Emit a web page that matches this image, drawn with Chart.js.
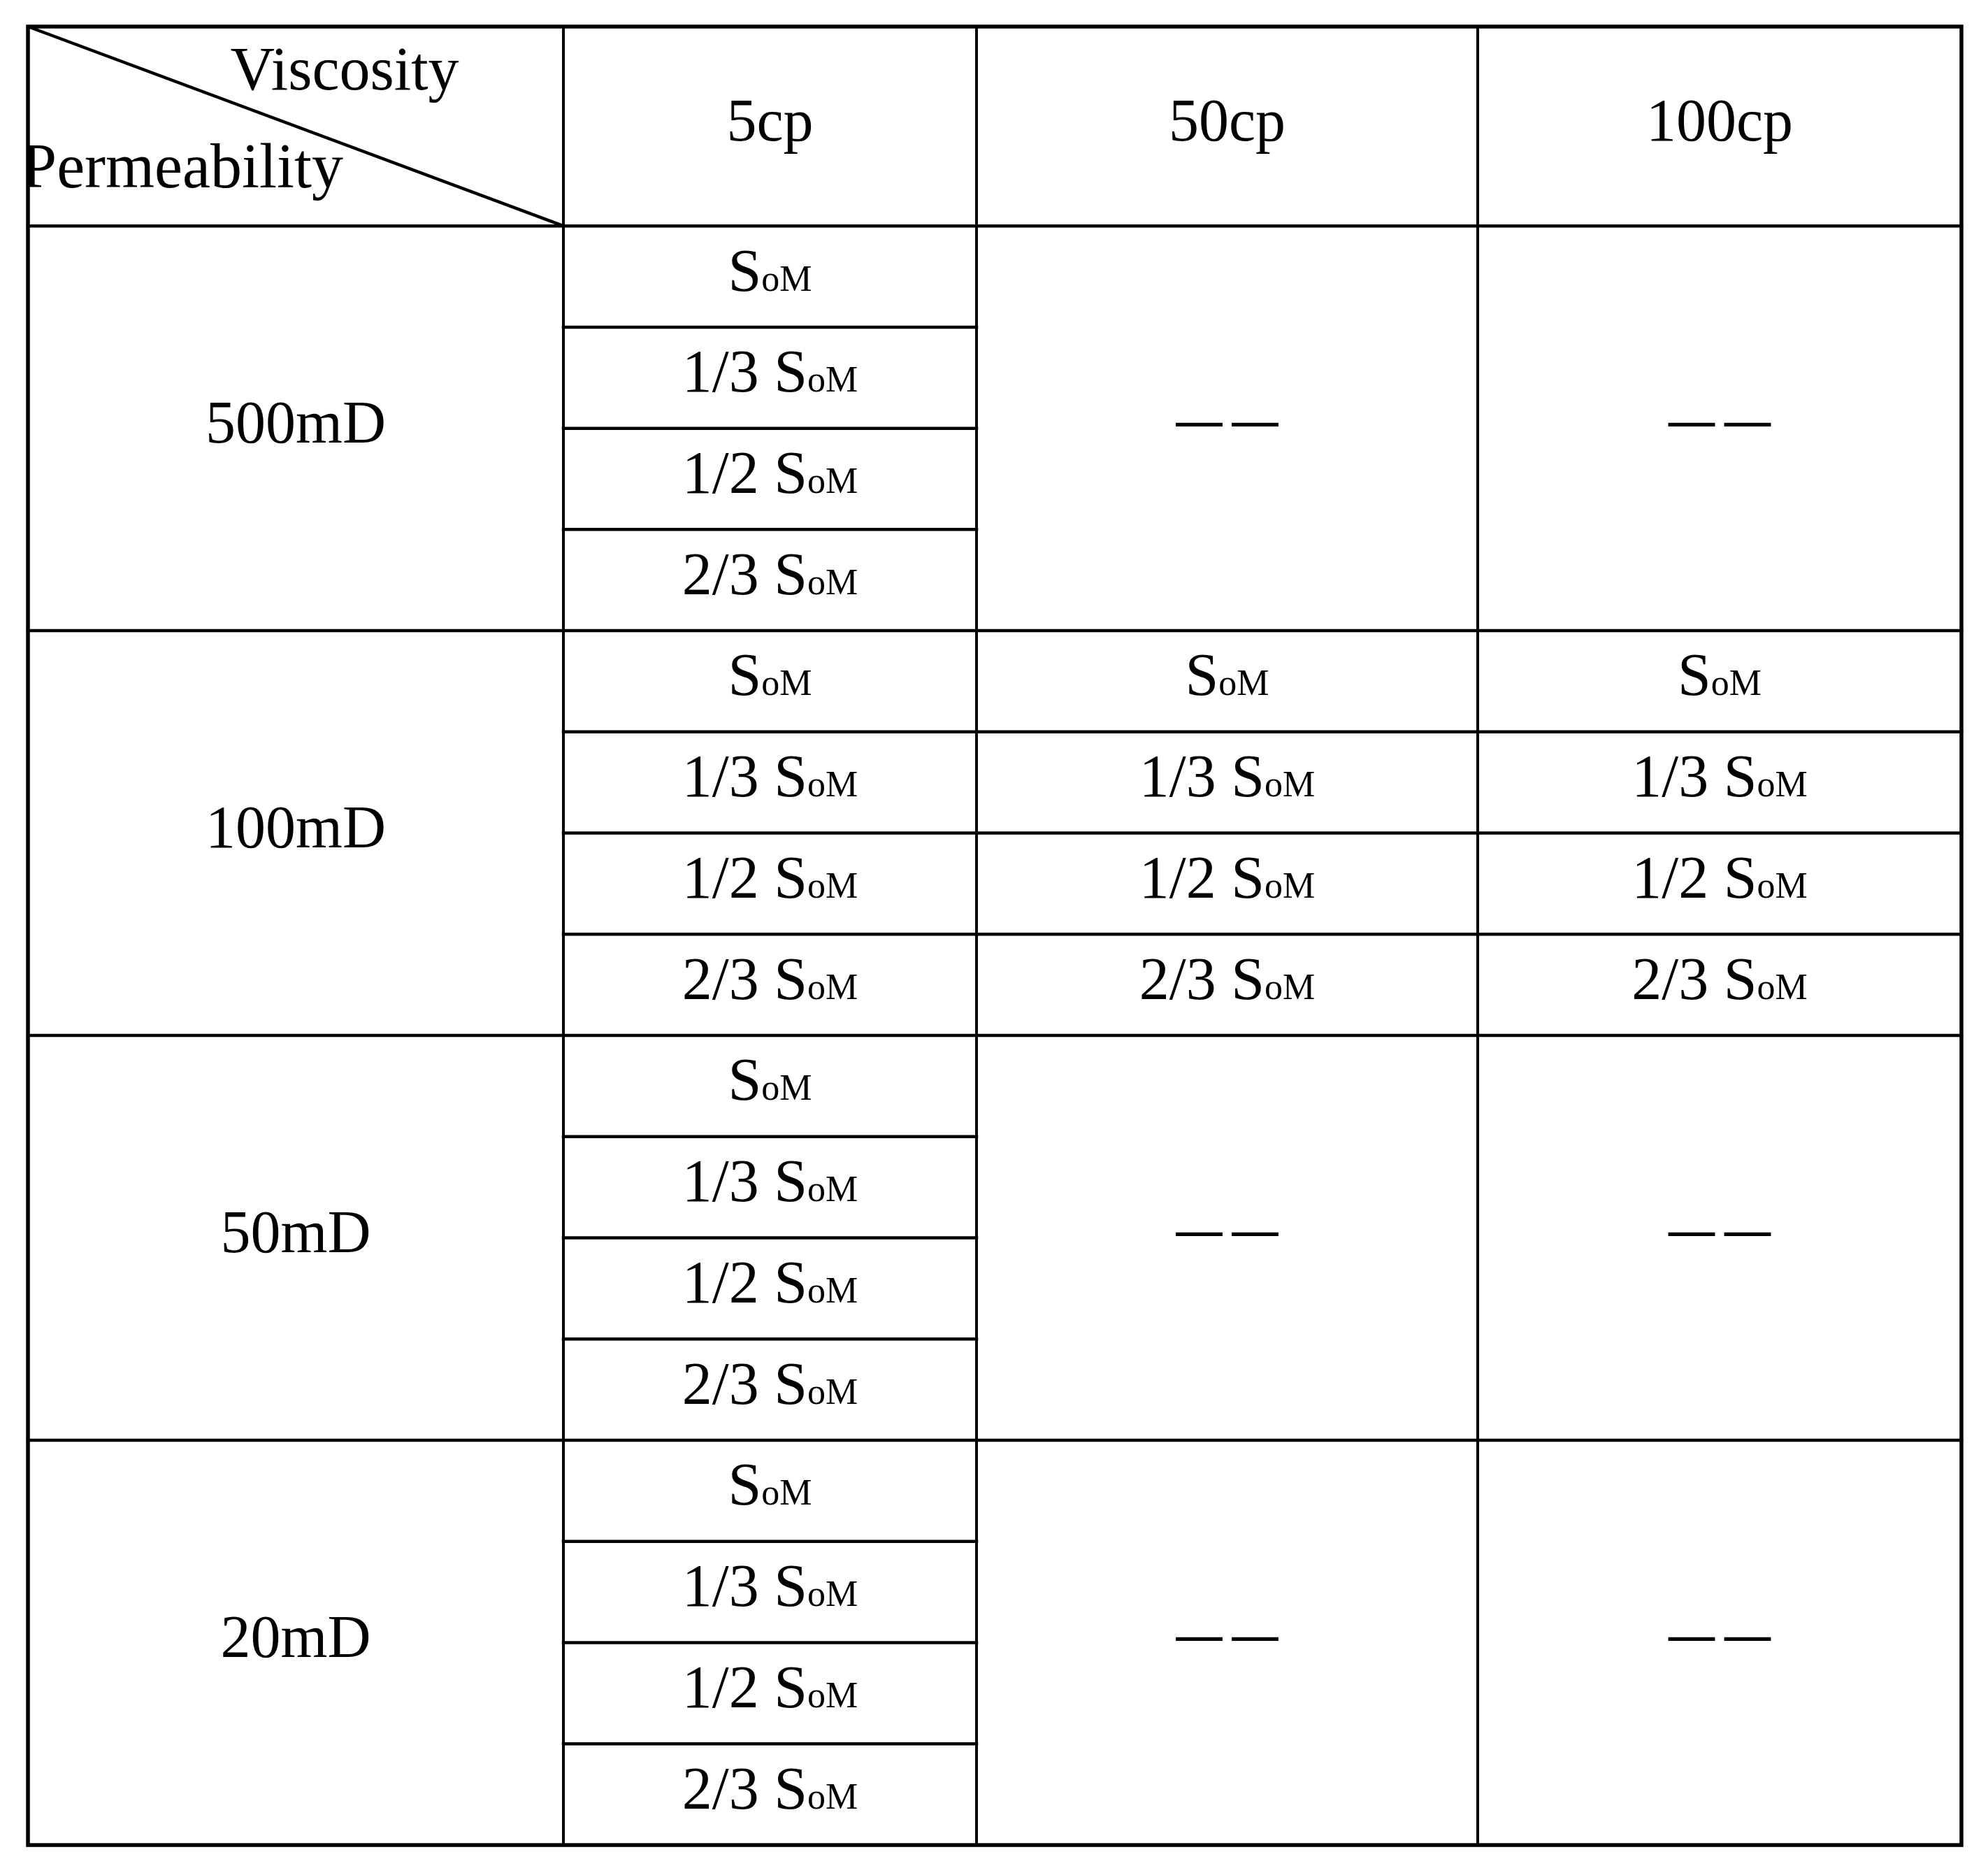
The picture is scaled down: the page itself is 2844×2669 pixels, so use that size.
<!DOCTYPE html>
<html>
<head>
<meta charset="utf-8">
<script src="https://cdn.jsdelivr.net/npm/chart.js@4.4.1/dist/chart.umd.min.js"></script>
<style>
  html, body { margin: 0; padding: 0; background: #fff; }
  #wrap { width: 2844px; height: 2669px; }
</style>
</head>
<body>
<div id="wrap"><canvas id="table"></canvas></div>
<script>
// ── Table content ────────────────────────────────────────────────
const viscosities    = ['5cp', '50cp', '100cp'];
const permeabilities = ['500mD', '100mD', '50mD', '20mD'];
const fractions      = ['', '1/3', '1/2', '2/3'];     // fraction of SoM
// 1 = run at this viscosity, 0 = not run ("——")
const runMatrix = [
  [1, 0, 0],
  [1, 1, 1],
  [1, 0, 0],
  [1, 0, 0]
];
const cornerTop    = 'Viscosity';
const cornerBottom = 'Permeability';

// ── Layout ───────────────────────────────────────────────────────
const COL_W   = [766, 591, 717, 692];   // corner column + viscosity columns
const HEAD_H  = 1.97;                    // header height, in sub-rows
const N_SUB   = permeabilities.length * fractions.length;
const FONT    = '"Liberation Serif", "Times New Roman", serif';
const INK     = '#000';

const colEdges = COL_W.reduce((a, w) => a.concat(a[a.length - 1] + w), [0]);
const colMid   = j => (colEdges[j] + colEdges[j + 1]) / 2;

// one invisible point per text cell, positioned in scale units
const cells = [];
viscosities.forEach((v, j) => cells.push({ x: colMid(j + 1), y: -HEAD_H / 2, kind: 'plain', text: v }));
permeabilities.forEach((p, i) => {
  const base = i * fractions.length;
  cells.push({ x: colMid(0), y: base + fractions.length / 2, kind: 'plain', text: p });
  runMatrix[i].forEach((run, j) => {
    if (run) {
      fractions.forEach((f, k) => cells.push({ x: colMid(j + 1), y: base + k + 0.5, kind: 'som', text: f }));
    } else {
      cells.push({ x: colMid(j + 1), y: base + fractions.length / 2, kind: 'dash', text: '— —' });
    }
  });
});
cells.push({ x: 453, y: -1.347, kind: 'cornerTop',    text: cornerTop });
cells.push({ x: 451, y: -0.38,  kind: 'cornerBottom', text: cornerBottom });

// ── Grid lines of the table ──────────────────────────────────────
const gridPlugin = {
  id: 'tableGrid',
  beforeDatasetsDraw(chart) {
    const { ctx, scales: { x, y } } = chart;
    const px = v => x.getPixelForValue(v);
    const py = v => y.getPixelForValue(v);
    const line = (x1, y1, x2, y2, w) => {
      ctx.beginPath();
      ctx.lineWidth = w;
      ctx.moveTo(px(x1), py(y1));
      ctx.lineTo(px(x2), py(y2));
      ctx.stroke();
    };
    const right = colEdges[colEdges.length - 1];
    ctx.save();
    ctx.strokeStyle = INK;
    ctx.lineCap = 'square';
    // header bottom + block separators
    line(0, 0, right, 0, 4.5);
    permeabilities.forEach((p, i) => { if (i > 0) line(0, i * fractions.length, right, i * fractions.length, 4.5); });
    // sub-row lines inside run columns
    permeabilities.forEach((p, i) => {
      runMatrix[i].forEach((run, j) => {
        if (!run) return;
        for (let k = 1; k < fractions.length; k++) {
          const yy = i * fractions.length + k;
          line(colEdges[j + 1], yy, colEdges[j + 2], yy, 4.5);
        }
      });
    });
    // column separators
    for (let j = 1; j < colEdges.length - 1; j++) line(colEdges[j], -HEAD_H, colEdges[j], N_SUB, 4);
    // corner diagonal
    ctx.lineCap = 'butt';
    line(0, -HEAD_H, colEdges[1], 0, 4.5);
    // outer border
    ctx.lineWidth = 5.5;
    ctx.lineJoin = 'miter';
    ctx.strokeRect(px(0), py(-HEAD_H), px(right) - px(0), py(N_SUB) - py(-HEAD_H));
    ctx.restore();
  },
  afterDatasetsDraw(chart) {
    const { ctx, scales: { x, y } } = chart;
    const meta = chart.getDatasetMeta(0);
    const data = chart.data.datasets[0].data;
    ctx.save();
    ctx.fillStyle = INK;
    ctx.strokeStyle = INK;
    ctx.textBaseline = 'alphabetic';
    meta.data.forEach((el, i) => {
      const d = data[i];
      const cx = el.x, cy = el.y;
      if (d.kind === 'plain') {
        ctx.font = '86px ' + FONT;
        ctx.textAlign = 'center';
        ctx.fillText(d.text, cx, cy + 20);
      } else if (d.kind === 'som') {
        const pre = d.text ? d.text + ' ' : '';
        ctx.textAlign = 'left';
        ctx.font = '86px ' + FONT;
        const wPre = ctx.measureText(pre).width;
        const wS = ctx.measureText('S').width;
        ctx.font = '52px ' + FONT;
        const wSub = ctx.measureText('oM').width;
        let sx = cx - (wPre + wS + wSub) / 2;
        ctx.font = '86px ' + FONT;
        ctx.fillText(pre + 'S', sx, cy + 20);
        ctx.font = '52px ' + FONT;
        ctx.fillText('oM', sx + wPre + wS, cy + 20);
      } else if (d.kind === 'dash') {
        ctx.font = '64px ' + FONT;
        ctx.textAlign = 'center';
        ctx.lineWidth = 2;
        ctx.fillText(d.text, cx, cy + 9);
        ctx.strokeText(d.text, cx, cy + 9);
      } else if (d.kind === 'cornerTop') {
        ctx.font = '88px ' + FONT;
        ctx.textAlign = 'center';
        ctx.fillText(d.text, cx, cy);
      } else if (d.kind === 'cornerBottom') {
        ctx.save();
        ctx.beginPath();
        ctx.rect(x.getPixelForValue(0), y.getPixelForValue(-HEAD_H), x.getPixelForValue(colEdges[1]) - x.getPixelForValue(0), y.getPixelForValue(0) - y.getPixelForValue(-HEAD_H));
        ctx.clip();
        ctx.font = '90px ' + FONT;
        ctx.textAlign = 'right';
        ctx.fillText(d.text, cx, cy);
        ctx.restore();
      }
    });
    ctx.restore();
  }
};

new Chart(document.getElementById('table'), {
  type: 'scatter',
  data: {
    datasets: [{
      data: cells,
      pointRadius: 0,
      pointHoverRadius: 0,
      borderWidth: 0
    }]
  },
  options: {
    responsive: true,
    maintainAspectRatio: false,
    animation: false,
    events: [],
    layout: { padding: 0 },
    plugins: { legend: { display: false }, tooltip: { enabled: false } },
    scales: {
      x: { type: 'linear', display: false, min: -40, max: 2804 },
      y: { type: 'linear', display: false, reverse: true, min: -HEAD_H - 0.2625, max: N_SUB + 0.207 }
    }
  },
  plugins: [gridPlugin]
});
</script>
</body>
</html>
